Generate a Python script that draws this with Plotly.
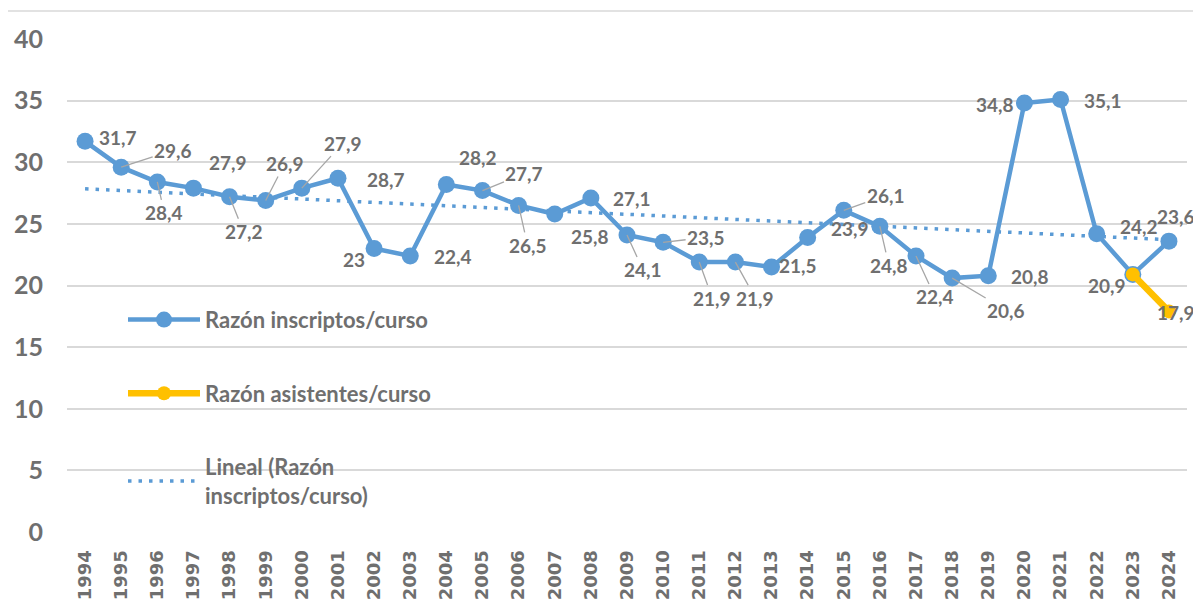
import numpy as np
import plotly.graph_objects as go

years = [str(y) for y in range(1994, 2025)]
inscriptos = [31.7, 29.6, 28.4, 27.9, 27.2, 26.9, 27.9, 28.7, 23.0, 22.4,
              28.2, 27.7, 26.5, 25.8, 27.1, 24.1, 23.5, 21.9, 21.9, 21.5,
              23.9, 26.1, 24.8, 22.4, 20.6, 20.8, 34.8, 35.1, 24.2, 20.9, 23.6]
asist_years = ["2023", "2024"]
asistentes = [20.9, 17.9]

# linear trend (as Excel's "Lineal" trendline) from the inscriptos series
idx = np.arange(len(inscriptos))
slope, intercept = np.polyfit(idx, inscriptos, 1)
trend = [float(t) for t in intercept + slope * idx]

# label placement (pixel offsets) and whether a leader line is drawn
label_pos = [(33, -4, 0), (52, -17, 1), (7, 31, 1), (35, -26, 0), (14, 35, 1),
             (19, -37, 1), (41, -45, 1), (48, 1, 0), (-20, 11, 0), (43, 1, 0),
             (32, -27, 0), (42, -17, 1), (9, 40, 1), (35, 22, 0), (41, 1, 0),
             (16, 35, 1), (43, -5, 1), (13, 36, 1), (20, 36, 1), (26, -2, 0),
             (42, -9, 0), (42, -15, 1), (9, 39, 1), (19, 41, 1), (54, 32, 1),
             (42, 1, 0), (-29, 1, 0), (42, 1, 0), (42, -7, 0), (-26, 11, 0),
             (7, -25, 0)]
asist_label_pos = [None, (7, 1, 0)]

BLUE = "#5b9bd5"
YELLOW = "#ffc000"
GRAY = "#6f6f6f"
LBL_FONT = dict(family="Lato", size=19, color=GRAY, weight="bold")


def fmt(v):
    s = ("%.1f" % v).replace(".", ",")
    return s[:-2] if s.endswith(",0") else s


fig = go.Figure()
fig.add_trace(go.Scatter(
    x=years, y=trend, mode="lines", name="Lineal (Razón<br>inscriptos/curso)",
    line=dict(color=BLUE, width=3.5, dash="3.5px,7px"),
    legendgroup="c", legendrank=3, hoverinfo="skip"))
fig.add_trace(go.Scatter(
    x=years, y=inscriptos, mode="lines+markers", name="Razón inscriptos/curso",
    line=dict(color=BLUE, width=4.5), marker=dict(size=17, color=BLUE),
    legendgroup="a", legendrank=1))
fig.add_trace(go.Scatter(
    x=asist_years, y=asistentes, mode="lines+markers", name="Razón asistentes/curso",
    line=dict(color=YELLOW, width=6.5), marker=dict(size=14, color=YELLOW),
    legendgroup="b", legendrank=2))

annotations = []
for i, (v, (dx, dy, lead)) in enumerate(zip(inscriptos, label_pos)):
    if lead:
        annotations.append(dict(x=i, y=v, xref="x", yref="y", text=fmt(v), font=LBL_FONT,
                                showarrow=True, arrowhead=0, arrowwidth=1.3,
                                arrowcolor="#a6a6a6", ax=dx, ay=dy, standoff=0))
    else:
        annotations.append(dict(x=i, y=v, xref="x", yref="y", text=fmt(v), font=LBL_FONT,
                                showarrow=False, xshift=dx, yshift=-dy))
for yr, v, p in zip(asist_years, asistentes, asist_label_pos):
    if p is None:
        continue
    dx, dy, lead = p
    annotations.append(dict(x=years.index(yr), y=v, xref="x", yref="y", text=fmt(v),
                            font=LBL_FONT, showarrow=False, xshift=dx, yshift=-dy))

fig.update_layout(
    width=1201, height=606,
    margin=dict(l=59, r=22, t=31, b=82),
    paper_bgcolor="white", plot_bgcolor="white",
    showlegend=True,
    legend=dict(x=0.05, y=0.473, xanchor="left", yanchor="top",
                bgcolor="rgba(0,0,0,0)", itemwidth=72, tracegroupgap=42,
                font=dict(family="Lato", size=22, color=GRAY, weight="bold")),
    annotations=annotations,
    shapes=[dict(type="rect", xref="paper", yref="paper",
                 x0=-0.0536, x1=1.2, y0=-0.3, y1=1.0568,
                 line=dict(color="#d9d9d9", width=1.5), layer="below")],
)
fig.update_xaxes(type="category", range=[-0.5, 30.5], tickangle=-90, automargin=False,
                 showgrid=False, showline=False, zeroline=False,
                 ticks="outside", ticklen=10, tickcolor="rgba(0,0,0,0)",
                 tickfont=dict(family="DejaVu Sans", size=18, color=GRAY, weight="bold"))
fig.update_yaxes(range=[0, 40], dtick=5, showgrid=True, gridcolor="#d9d9d9", gridwidth=1.5,
                 zeroline=False, showline=False, automargin=False,
                 ticks="outside", ticklen=18, tickcolor="rgba(0,0,0,0)",
                 tickfont=dict(family="Lato", size=25, color=GRAY, weight="bold"))

fig.write_html("out.html")
